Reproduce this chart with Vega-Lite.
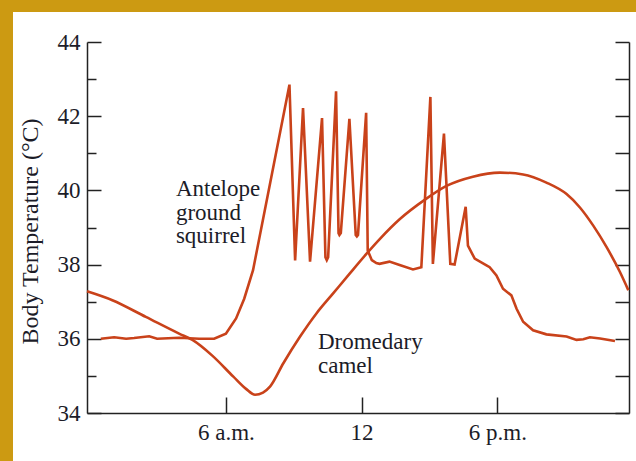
{
  "$schema": "https://vega.github.io/schema/vega-lite/v6.json",
  "autosize": "none",
  "width": 623,
  "height": 449,
  "padding": {"left": 13, "top": 12, "right": 0, "bottom": 0},
  "background": "#cc9a12",
  "view": {"fill": "white", "stroke": null},
  "config": {
    "axis": {
      "domainColor": "#222222",
      "domainWidth": 1.5,
      "tickColor": "#222222",
      "tickWidth": 1.5,
      "grid": false,
      "labelFont": "Liberation Serif",
      "labelFontSize": 23,
      "labelColor": "#1c1c28",
      "titleFont": "Liberation Serif",
      "titleFontSize": 24,
      "titleFontWeight": "normal",
      "titleColor": "#1c1c28"
    }
  },
  "data": {
    "values": [
      {"series": "camel", "hour": -0.14, "temp": 37.28},
      {"series": "camel", "hour": 0.98, "temp": 37.04},
      {"series": "camel", "hour": 2.46, "temp": 36.59},
      {"series": "camel", "hour": 3.93, "temp": 36.14},
      {"series": "camel", "hour": 4.52, "temp": 35.97},
      {"series": "camel", "hour": 5.41, "temp": 35.54},
      {"series": "camel", "hour": 6.33, "temp": 34.98},
      {"series": "camel", "hour": 6.89, "temp": 34.65},
      {"series": "camel", "hour": 7.29, "temp": 34.49},
      {"series": "camel", "hour": 7.64, "temp": 34.55},
      {"series": "camel", "hour": 7.95, "temp": 34.71},
      {"series": "camel", "hour": 8.54, "temp": 35.34},
      {"series": "camel", "hour": 9.28, "temp": 36.06},
      {"series": "camel", "hour": 10.01, "temp": 36.69},
      {"series": "camel", "hour": 10.75, "temp": 37.23},
      {"series": "camel", "hour": 11.49, "temp": 37.77},
      {"series": "camel", "hour": 12.23, "temp": 38.3},
      {"series": "camel", "hour": 12.79, "temp": 38.68},
      {"series": "camel", "hour": 13.68, "temp": 39.22},
      {"series": "camel", "hour": 14.8, "temp": 39.75},
      {"series": "camel", "hour": 15.75, "temp": 40.12},
      {"series": "camel", "hour": 16.92, "temp": 40.37},
      {"series": "camel", "hour": 18.11, "temp": 40.48},
      {"series": "camel", "hour": 19.14, "temp": 40.43},
      {"series": "camel", "hour": 20.17, "temp": 40.21},
      {"series": "camel", "hour": 21.06, "temp": 39.9},
      {"series": "camel", "hour": 21.65, "temp": 39.54},
      {"series": "camel", "hour": 22.24, "temp": 39.05},
      {"series": "camel", "hour": 22.83, "temp": 38.47},
      {"series": "camel", "hour": 23.42, "temp": 37.8},
      {"series": "camel", "hour": 23.79, "temp": 37.31},
      {"series": "squirrel", "hour": 0.47, "temp": 36.0},
      {"series": "squirrel", "hour": 1.06, "temp": 36.04},
      {"series": "squirrel", "hour": 1.59, "temp": 36.0},
      {"series": "squirrel", "hour": 1.94, "temp": 36.02},
      {"series": "squirrel", "hour": 2.61, "temp": 36.07},
      {"series": "squirrel", "hour": 2.96, "temp": 36.0},
      {"series": "squirrel", "hour": 3.93, "temp": 36.03},
      {"series": "squirrel", "hour": 4.82, "temp": 36.0},
      {"series": "squirrel", "hour": 5.48, "temp": 36.0},
      {"series": "squirrel", "hour": 6.0, "temp": 36.14},
      {"series": "squirrel", "hour": 6.45, "temp": 36.55},
      {"series": "squirrel", "hour": 6.81, "temp": 37.08},
      {"series": "squirrel", "hour": 7.2, "temp": 37.85},
      {"series": "squirrel", "hour": 8.81, "temp": 42.85},
      {"series": "squirrel", "hour": 9.06, "temp": 38.11},
      {"series": "squirrel", "hour": 9.41, "temp": 42.22},
      {"series": "squirrel", "hour": 9.72, "temp": 38.08},
      {"series": "squirrel", "hour": 10.25, "temp": 41.95},
      {"series": "squirrel", "hour": 10.4, "temp": 38.2},
      {"series": "squirrel", "hour": 10.46, "temp": 38.12},
      {"series": "squirrel", "hour": 10.52, "temp": 38.2},
      {"series": "squirrel", "hour": 10.87, "temp": 42.67},
      {"series": "squirrel", "hour": 10.98, "temp": 38.85},
      {"series": "squirrel", "hour": 11.02, "temp": 38.8},
      {"series": "squirrel", "hour": 11.08, "temp": 38.85},
      {"series": "squirrel", "hour": 11.46, "temp": 41.93},
      {"series": "squirrel", "hour": 11.74, "temp": 38.8},
      {"series": "squirrel", "hour": 11.79, "temp": 38.76},
      {"series": "squirrel", "hour": 11.84, "temp": 38.8},
      {"series": "squirrel", "hour": 12.2, "temp": 42.09},
      {"series": "squirrel", "hour": 12.27, "temp": 38.38},
      {"series": "squirrel", "hour": 12.45, "temp": 38.12},
      {"series": "squirrel", "hour": 12.65, "temp": 38.04},
      {"series": "squirrel", "hour": 12.79, "temp": 38.02},
      {"series": "squirrel", "hour": 13.23, "temp": 38.08},
      {"series": "squirrel", "hour": 13.68, "temp": 37.99},
      {"series": "squirrel", "hour": 14.27, "temp": 37.87},
      {"series": "squirrel", "hour": 14.64, "temp": 37.93},
      {"series": "squirrel", "hour": 15.04, "temp": 42.52},
      {"series": "squirrel", "hour": 15.15, "temp": 38.02},
      {"series": "squirrel", "hour": 15.64, "temp": 41.53},
      {"series": "squirrel", "hour": 15.92, "temp": 38.02},
      {"series": "squirrel", "hour": 16.11, "temp": 38.0},
      {"series": "squirrel", "hour": 16.6, "temp": 39.56},
      {"series": "squirrel", "hour": 16.7, "temp": 38.51},
      {"series": "squirrel", "hour": 17.0, "temp": 38.16},
      {"series": "squirrel", "hour": 17.52, "temp": 37.98},
      {"series": "squirrel", "hour": 17.66, "temp": 37.93},
      {"series": "squirrel", "hour": 17.96, "temp": 37.71},
      {"series": "squirrel", "hour": 18.25, "temp": 37.35},
      {"series": "squirrel", "hour": 18.62, "temp": 37.17},
      {"series": "squirrel", "hour": 18.85, "temp": 36.81},
      {"series": "squirrel", "hour": 19.14, "temp": 36.46},
      {"series": "squirrel", "hour": 19.58, "temp": 36.23},
      {"series": "squirrel", "hour": 20.17, "temp": 36.12},
      {"series": "squirrel", "hour": 21.06, "temp": 36.06},
      {"series": "squirrel", "hour": 21.5, "temp": 35.97},
      {"series": "squirrel", "hour": 21.8, "temp": 35.99},
      {"series": "squirrel", "hour": 22.09, "temp": 36.04},
      {"series": "squirrel", "hour": 22.54, "temp": 36.01},
      {"series": "squirrel", "hour": 23.2, "temp": 35.94}
    ]
  },
  "layer": [
    {
      "transform": [{"filter": "datum.series == 'camel'"}],
      "mark": {"type": "line", "interpolate": "monotone", "color": "#c9421a", "strokeWidth": 2.6},
      "encoding": {
        "x": {
          "field": "hour",
          "type": "quantitative",
          "scale": {"domain": [-0.14, 23.82], "range": [74, 616], "nice": false},
          "axis": {
            "orient": "bottom",
            "offset": -48,
            "title": null,
            "values": [6, 12, 18],
            "labelExpr": "datum.value == 6 ? '6 a.m.' : datum.value == 12 ? '12' : '6 p.m.'",
            "tickSize": -16,
            "labelPadding": 24,
            "labelBaseline": "top"
          }
        },
        "y": {
          "field": "temp",
          "type": "quantitative",
          "scale": {"domain": [34, 44], "range": [401, 30], "nice": false, "zero": false},
          "axis": {
            "orient": "left",
            "offset": -74,
            "values": [34, 35, 36, 37, 38, 39, 40, 41, 42, 43, 44],
            "labelExpr": "datum.value % 2 == 0 ? datum.label : ''",
            "tickSize": {"condition": {"test": "datum.value % 2 == 0", "value": -14}, "value": -9},
            "labelPadding": 21,
            "title": "Body Temperature (°C)",
            "titleX": -57,
            "titleY": 219,
            "titleAngle": 270,
            "titleAlign": "center",
            "titleBaseline": "middle"
          }
        }
      }
    },
    {
      "transform": [{"filter": "datum.series == 'squirrel'"}],
      "mark": {"type": "line", "interpolate": "linear", "color": "#c9421a", "strokeWidth": 2.6, "strokeJoin": "miter"},
      "encoding": {
        "x": {"field": "hour", "type": "quantitative"},
        "y": {
          "field": "temp",
          "type": "quantitative",
          "axis": {
            "orient": "right",
            "offset": -7,
            "values": [34, 35, 36, 37, 38, 39, 40, 41, 42, 43, 44],
            "labels": false,
            "tickSize": -14,
            "title": null
          }
        }
      }
    },
    {
      "data": {
        "values": [
          {"label": "Antelope", "hour": 3.79, "temp": 39.86},
          {"label": "ground", "hour": 3.79, "temp": 39.2},
          {"label": "squirrel", "hour": 3.79, "temp": 38.57},
          {"label": "Dromedary", "hour": 10.07, "temp": 35.73},
          {"label": "camel", "hour": 10.07, "temp": 35.08}
        ]
      },
      "mark": {"type": "text", "align": "left", "baseline": "alphabetic", "font": "Liberation Serif", "fontSize": 23, "color": "#1c1c28"},
      "encoding": {
        "x": {"field": "hour", "type": "quantitative"},
        "y": {"field": "temp", "type": "quantitative", "axis": null},
        "text": {"field": "label"}
      }
    }
  ],
  "resolve": {"axis": {"y": "independent"}}
}
